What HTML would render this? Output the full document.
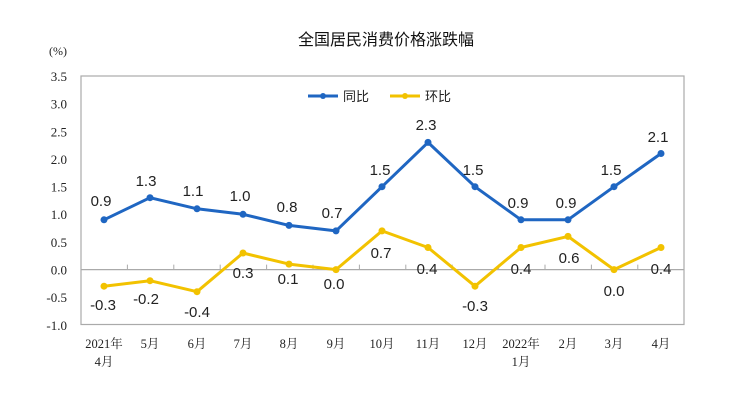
<!DOCTYPE html>
<html><head><meta charset="utf-8"><style>body{margin:0;background:#fff}svg{display:block}</style></head><body>
<svg width="740" height="405" xmlns="http://www.w3.org/2000/svg" font-family="Liberation Sans, Noto Sans CJK SC, sans-serif">
<text x="386" y="45" font-size="16" text-anchor="middle" fill="#111" font-family="Noto Sans CJK SC, sans-serif">全国居民消费价格涨跌幅</text>
<text x="58" y="55" font-size="12" text-anchor="middle" fill="#222" font-family="Liberation Serif, serif">(%)</text>
<rect x="81" y="76" width="603" height="248.5" fill="none" stroke="#aaa" stroke-width="1.2"/>
<g font-family="Liberation Serif, serif" font-size="13" fill="#222" text-anchor="end">
<text x="67" y="81">3.5</text><text x="67" y="108.6">3.0</text><text x="67" y="136.3">2.5</text><text x="67" y="163.9">2.0</text><text x="67" y="191.6">1.5</text><text x="67" y="219.2">1.0</text><text x="67" y="246.9">0.5</text><text x="67" y="274.5">0.0</text><text x="67" y="302.2">-0.5</text><text x="67" y="329.8">-1.0</text>
</g>
<line x1="81" y1="269.6" x2="684" y2="269.6" stroke="#aaa" stroke-width="1.2"/>
<g stroke="#aaa" stroke-width="1">
<path d="M127.4 269.6v-5M173.8 269.6v-5M220.2 269.6v-5M266.6 269.6v-5M313 269.6v-5M359.4 269.6v-5M405.8 269.6v-5M452.2 269.6v-5M498.6 269.6v-5M545 269.6v-5M591.4 269.6v-5M637.8 269.6v-5"/>
</g>
<g font-family="Liberation Serif, Noto Serif CJK SC, serif" font-size="12.5" fill="#222" text-anchor="middle">
<text x="104" y="348">2021年</text><text x="104" y="366">4月</text>
<text x="150" y="348">5月</text><text x="197" y="348">6月</text><text x="243" y="348">7月</text><text x="289" y="348">8月</text><text x="336" y="348">9月</text><text x="382" y="348">10月</text><text x="428" y="348">11月</text><text x="475" y="348">12月</text>
<text x="521" y="348">2022年</text><text x="521" y="366">1月</text>
<text x="568" y="348">2月</text><text x="614" y="348">3月</text><text x="661" y="348">4月</text>
</g>
<g>
<line x1="308" y1="96" x2="338" y2="96" stroke="#1f66c2" stroke-width="3"/><circle cx="323" cy="96" r="3" fill="#1f66c2"/>
<text x="343" y="101" font-size="13" fill="#222" font-family="Noto Sans CJK SC, sans-serif">同比</text>
<line x1="390" y1="96" x2="420" y2="96" stroke="#f2c200" stroke-width="3"/><circle cx="405" cy="96" r="3" fill="#f2c200"/>
<text x="425" y="101" font-size="13" fill="#222" font-family="Noto Sans CJK SC, sans-serif">环比</text>
</g>
<polyline fill="none" stroke="#1f66c2" stroke-width="3" stroke-linejoin="round" points="104,219.8 150,197.7 197,208.8 243,214.3 289,225.4 336,230.9 382,186.7 428,142.4 475,186.7 521,219.8 568,219.8 614,186.7 661,153.5"/>
<g fill="#1f66c2"><circle cx="104" cy="219.8" r="3.5"/><circle cx="150" cy="197.7" r="3.5"/><circle cx="197" cy="208.8" r="3.5"/><circle cx="243" cy="214.3" r="3.5"/><circle cx="289" cy="225.4" r="3.5"/><circle cx="336" cy="230.9" r="3.5"/><circle cx="382" cy="186.7" r="3.5"/><circle cx="428" cy="142.4" r="3.5"/><circle cx="475" cy="186.7" r="3.5"/><circle cx="521" cy="219.8" r="3.5"/><circle cx="568" cy="219.8" r="3.5"/><circle cx="614" cy="186.7" r="3.5"/><circle cx="661" cy="153.5" r="3.5"/></g>
<polyline fill="none" stroke="#f2c200" stroke-width="3" stroke-linejoin="round" points="104,286.2 150,280.7 197,291.7 243,253 289,264.1 336,269.6 382,230.9 428,247.5 475,286.2 521,247.5 568,236.4 614,269.6 661,247.5"/>
<g fill="#f2c200"><circle cx="104" cy="286.2" r="3.5"/><circle cx="150" cy="280.7" r="3.5"/><circle cx="197" cy="291.7" r="3.5"/><circle cx="243" cy="253" r="3.5"/><circle cx="289" cy="264.1" r="3.5"/><circle cx="336" cy="269.6" r="3.5"/><circle cx="382" cy="230.9" r="3.5"/><circle cx="428" cy="247.5" r="3.5"/><circle cx="475" cy="286.2" r="3.5"/><circle cx="521" cy="247.5" r="3.5"/><circle cx="568" cy="236.4" r="3.5"/><circle cx="614" cy="269.6" r="3.5"/><circle cx="661" cy="247.5" r="3.5"/></g>
<g font-size="15" fill="#222" text-anchor="middle">
<text x="101" y="206">0.9</text><text x="146" y="186">1.3</text><text x="193" y="196">1.1</text><text x="240" y="201">1.0</text><text x="287" y="212">0.8</text><text x="332" y="218">0.7</text><text x="380" y="175">1.5</text><text x="426" y="130">2.3</text><text x="473" y="175">1.5</text><text x="518" y="208">0.9</text><text x="566" y="208">0.9</text><text x="611" y="175">1.5</text><text x="658" y="142">2.1</text>
<text x="103" y="310">-0.3</text><text x="146" y="304">-0.2</text><text x="197" y="317">-0.4</text><text x="243" y="278">0.3</text><text x="288" y="284">0.1</text><text x="334" y="289">0.0</text><text x="381" y="258">0.7</text><text x="427" y="274">0.4</text><text x="475" y="311">-0.3</text><text x="521" y="274">0.4</text><text x="569" y="263">0.6</text><text x="614" y="296">0.0</text><text x="661" y="274">0.4</text>
</g>
</svg>
</body></html>
